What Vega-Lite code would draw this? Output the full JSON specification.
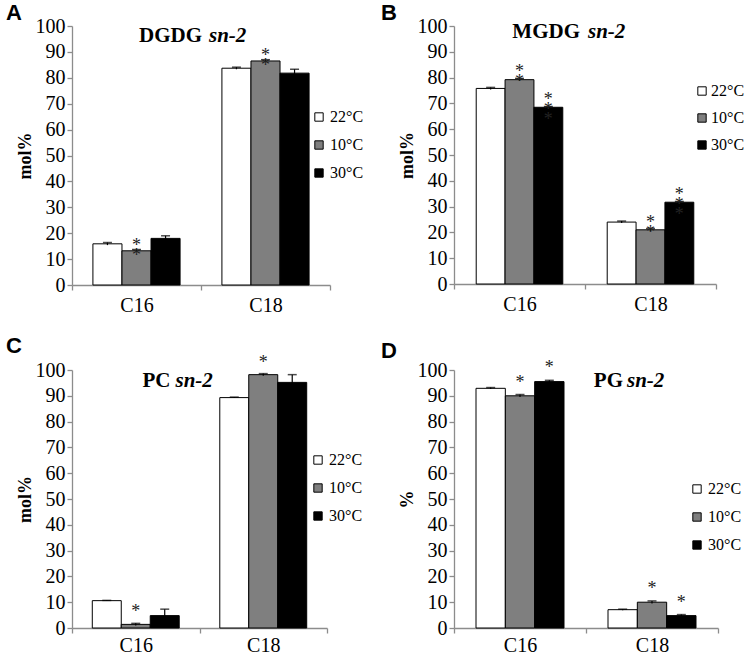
{
  "$schema": "https://vega.github.io/schema/vega-lite/v6.json",
  "background": "white",
  "padding": {"left": 6, "top": 2, "right": 0, "bottom": 0},
  "datasets": {
    "dgdg": [
      {"cat": "C16", "temp": "22°C", "value": 15.9, "lo": 15.4, "hi": 16.4, "sig": ""},
      {"cat": "C16", "temp": "10°C", "value": 13.2, "lo": 12.7, "hi": 13.7, "sig": "*\n*"},
      {"cat": "C16", "temp": "30°C", "value": 18.0, "lo": 17.0, "hi": 19.0, "sig": ""},
      {"cat": "C18", "temp": "22°C", "value": 83.7, "lo": 83.3, "hi": 84.1, "sig": ""},
      {"cat": "C18", "temp": "10°C", "value": 86.5, "lo": 86.0, "hi": 87.0, "sig": "*\n*"},
      {"cat": "C18", "temp": "30°C", "value": 81.8, "lo": 80.3, "hi": 83.3, "sig": ""}
    ],
    "mgdg": [
      {"cat": "C16", "temp": "22°C", "value": 75.8, "lo": 75.4, "hi": 76.2, "sig": ""},
      {"cat": "C16", "temp": "10°C", "value": 79.2, "lo": 78.7, "hi": 79.7, "sig": "*\n*"},
      {"cat": "C16", "temp": "30°C", "value": 68.5, "lo": 68.2, "hi": 68.8, "sig": "*\n*\n*"},
      {"cat": "C18", "temp": "22°C", "value": 24.0, "lo": 23.6, "hi": 24.4, "sig": ""},
      {"cat": "C18", "temp": "10°C", "value": 21.0, "lo": 20.5, "hi": 21.5, "sig": "*\n*"},
      {"cat": "C18", "temp": "30°C", "value": 31.7, "lo": 31.4, "hi": 32.0, "sig": "*\n*\n*"}
    ],
    "pc": [
      {"cat": "C16", "temp": "22°C", "value": 10.6, "lo": 10.5, "hi": 10.7, "sig": ""},
      {"cat": "C16", "temp": "10°C", "value": 1.4, "lo": 1.0, "hi": 1.8, "sig": "*"},
      {"cat": "C16", "temp": "30°C", "value": 4.8, "lo": 2.3, "hi": 7.3, "sig": ""},
      {"cat": "C18", "temp": "22°C", "value": 89.3, "lo": 89.1, "hi": 89.5, "sig": ""},
      {"cat": "C18", "temp": "10°C", "value": 98.2, "lo": 97.8, "hi": 98.6, "sig": "*"},
      {"cat": "C18", "temp": "30°C", "value": 95.2, "lo": 92.2, "hi": 98.2, "sig": ""}
    ],
    "pg": [
      {"cat": "C16", "temp": "22°C", "value": 92.9, "lo": 92.6, "hi": 93.2, "sig": ""},
      {"cat": "C16", "temp": "10°C", "value": 90.0, "lo": 89.5, "hi": 90.5, "sig": "*"},
      {"cat": "C16", "temp": "30°C", "value": 95.5, "lo": 95.0, "hi": 96.0, "sig": "*"},
      {"cat": "C18", "temp": "22°C", "value": 7.1, "lo": 6.9, "hi": 7.3, "sig": ""},
      {"cat": "C18", "temp": "10°C", "value": 10.0, "lo": 9.5, "hi": 10.5, "sig": "*"},
      {"cat": "C18", "temp": "30°C", "value": 4.8, "lo": 4.4, "hi": 5.2, "sig": "*"}
    ]
  },
  "columns": 2,
  "spacing": {"row": 19, "column": 17},
  "resolve": {"scale": {"color": "independent", "x": "independent", "y": "independent", "xOffset": "independent"}, "legend": {"color": "independent"}},
  "concat": [
    {
      "width": 258, "height": 259,
      "title": {"text": "A", "anchor": "start", "frame": "group", "dx": -66, "offset": -9, "font": "Liberation Sans", "fontSize": 22, "fontWeight": "bold", "color": "black"},
      "layer": [
        {"data": {"name": "dgdg"}, "mark": {"type": "bar", "stroke": "black", "strokeWidth": 1},
         "encoding": {
           "x": {"field": "cat", "type": "nominal", "title": null, "scale": {"paddingInner": 0, "paddingOuter": 0},
             "axis": {"labelAngle": 0, "tickBand": "extent", "grid": false, "domainColor": "#8c8c8c", "tickColor": "#8c8c8c", "domainWidth": 1.3, "tickWidth": 1.3, "tickSize": 5, "labelFont": "Liberation Serif", "labelFontSize": 20, "labelColor": "black", "labelPadding": 5}},
           "xOffset": {"field": "temp", "type": "nominal", "sort": ["22°C", "10°C", "30°C"], "scale": {"paddingOuter": 0.72, "paddingInner": 0}},
           "y": {"field": "value", "type": "quantitative", "scale": {"domain": [0, 100], "nice": false},
             "axis": {"title": "mol%", "values": [0, 10, 20, 30, 40, 50, 60, 70, 80, 90, 100], "tickCount": 11, "labelOverlap": false, "grid": false, "domainColor": "#8c8c8c", "tickColor": "#8c8c8c", "domainWidth": 1.3, "tickWidth": 1.3, "tickSize": 5, "labelFont": "Liberation Serif", "labelFontSize": 20, "labelColor": "black", "labelPadding": 2, "titleFont": "Liberation Serif", "titleFontSize": 18, "titleFontWeight": "bold", "titleColor": "black", "titlePadding": 1}},
           "color": {"field": "temp", "type": "nominal", "scale": {"domain": ["22°C", "10°C", "30°C"], "range": ["white", "#7f7f7f", "black"]},
             "legend": {"orient": "none", "legendX": 239, "legendY": 83, "title": null, "symbolType": "square", "symbolSize": 70, "symbolStrokeColor": "black", "symbolStrokeWidth": 1, "labelFont": "Liberation Serif", "labelFontSize": 16, "labelColor": "black", "rowPadding": 12, "labelOffset": 3}}
         }},
        {"data": {"name": "dgdg"}, "mark": {"type": "rule", "color": "black", "strokeWidth": 1.2},
         "encoding": {"x": {"field": "cat", "type": "nominal"}, "xOffset": {"field": "temp", "type": "nominal", "sort": ["22°C", "10°C", "30°C"]}, "y": {"field": "lo", "type": "quantitative", "axis": {"values": [0, 10, 20, 30, 40, 50, 60, 70, 80, 90, 100], "tickCount": 11, "labelOverlap": false}}, "y2": {"field": "hi"}}},
        {"data": {"name": "dgdg"}, "mark": {"type": "tick", "color": "black", "size": 9, "thickness": 1.5},
         "encoding": {"x": {"field": "cat", "type": "nominal"}, "xOffset": {"field": "temp", "type": "nominal", "sort": ["22°C", "10°C", "30°C"]}, "y": {"field": "hi", "type": "quantitative", "axis": {"values": [0, 10, 20, 30, 40, 50, 60, 70, 80, 90, 100], "tickCount": 11, "labelOverlap": false}}}},
        {"data": {"name": "dgdg"}, "mark": {"type": "text", "baseline": "bottom", "font": "Liberation Serif", "fontSize": 18, "lineHeight": 10, "lineBreak": "\n", "dy": 5, "fill": "#222"},
         "encoding": {"x": {"field": "cat", "type": "nominal"}, "xOffset": {"field": "temp", "type": "nominal", "sort": ["22°C", "10°C", "30°C"]}, "y": {"field": "hi", "type": "quantitative", "axis": {"values": [0, 10, 20, 30, 40, 50, 60, 70, 80, 90, 100], "tickCount": 11, "labelOverlap": false}}, "text": {"field": "sig"}}},
        {"data": {"values": [{}]}, "mark": {"type": "text", "text": "DGDG", "align": "right", "baseline": "alphabetic", "font": "Liberation Serif", "fontSize": 21, "fontWeight": "bold", "fill": "black", "dx": 1},
         "encoding": {"x": {"datum": "C18", "bandPosition": 0}, "y": {"datum": 94}}},
        {"data": {"values": [{}]}, "mark": {"type": "text", "text": "sn-2", "align": "left", "baseline": "alphabetic", "font": "Liberation Serif", "fontSize": 21, "fontWeight": "bold", "fontStyle": "italic", "fill": "black", "dx": 8},
         "encoding": {"x": {"datum": "C18", "bandPosition": 0}, "y": {"datum": 94}}}
      ]
    },
    {
      "width": 262, "height": 258,
      "title": {"text": "B", "anchor": "start", "frame": "group", "dx": -73, "offset": -9, "font": "Liberation Sans", "fontSize": 22, "fontWeight": "bold", "color": "black"},
      "layer": [
        {"data": {"name": "mgdg"}, "mark": {"type": "bar", "stroke": "black", "strokeWidth": 1},
         "encoding": {
           "x": {"field": "cat", "type": "nominal", "title": null, "scale": {"paddingInner": 0, "paddingOuter": 0},
             "axis": {"labelAngle": 0, "tickBand": "extent", "grid": false, "domainColor": "#8c8c8c", "tickColor": "#8c8c8c", "domainWidth": 1.3, "tickWidth": 1.3, "tickSize": 5, "labelFont": "Liberation Serif", "labelFontSize": 20, "labelColor": "black", "labelPadding": 5}},
           "xOffset": {"field": "temp", "type": "nominal", "sort": ["22°C", "10°C", "30°C"], "scale": {"paddingOuter": 0.77, "paddingInner": 0}},
           "y": {"field": "value", "type": "quantitative", "scale": {"domain": [0, 100], "nice": false},
             "axis": {"title": "mol%", "values": [0, 10, 20, 30, 40, 50, 60, 70, 80, 90, 100], "tickCount": 11, "labelOverlap": false, "grid": false, "domainColor": "#8c8c8c", "tickColor": "#8c8c8c", "domainWidth": 1.3, "tickWidth": 1.3, "tickSize": 5, "labelFont": "Liberation Serif", "labelFontSize": 20, "labelColor": "black", "labelPadding": 2, "titleFont": "Liberation Serif", "titleFontSize": 18, "titleFontWeight": "bold", "titleColor": "black", "titlePadding": 1}},
           "color": {"field": "temp", "type": "nominal", "scale": {"domain": ["22°C", "10°C", "30°C"], "range": ["white", "#7f7f7f", "black"]},
             "legend": {"orient": "none", "legendX": 240, "legendY": 57, "title": null, "symbolType": "square", "symbolSize": 70, "symbolStrokeColor": "black", "symbolStrokeWidth": 1, "labelFont": "Liberation Serif", "labelFontSize": 16, "labelColor": "black", "rowPadding": 11, "labelOffset": 1}}
         }},
        {"data": {"name": "mgdg"}, "mark": {"type": "rule", "color": "black", "strokeWidth": 1.2},
         "encoding": {"x": {"field": "cat", "type": "nominal"}, "xOffset": {"field": "temp", "type": "nominal", "sort": ["22°C", "10°C", "30°C"]}, "y": {"field": "lo", "type": "quantitative", "axis": {"values": [0, 10, 20, 30, 40, 50, 60, 70, 80, 90, 100], "tickCount": 11, "labelOverlap": false}}, "y2": {"field": "hi"}}},
        {"data": {"name": "mgdg"}, "mark": {"type": "tick", "color": "black", "size": 9, "thickness": 1.5},
         "encoding": {"x": {"field": "cat", "type": "nominal"}, "xOffset": {"field": "temp", "type": "nominal", "sort": ["22°C", "10°C", "30°C"]}, "y": {"field": "hi", "type": "quantitative", "axis": {"values": [0, 10, 20, 30, 40, 50, 60, 70, 80, 90, 100], "tickCount": 11, "labelOverlap": false}}}},
        {"data": {"name": "mgdg"}, "mark": {"type": "text", "baseline": "bottom", "font": "Liberation Serif", "fontSize": 18, "lineHeight": 10, "lineBreak": "\n", "dy": 3, "fill": "#222"},
         "encoding": {"x": {"field": "cat", "type": "nominal"}, "xOffset": {"field": "temp", "type": "nominal", "sort": ["22°C", "10°C", "30°C"]}, "y": {"field": "hi", "type": "quantitative", "axis": {"values": [0, 10, 20, 30, 40, 50, 60, 70, 80, 90, 100], "tickCount": 11, "labelOverlap": false}}, "text": {"field": "sig"}}},
        {"data": {"values": [{}]}, "mark": {"type": "text", "text": "MGDG", "align": "right", "baseline": "alphabetic", "font": "Liberation Serif", "fontSize": 21, "fontWeight": "bold", "fill": "black", "dx": -5},
         "encoding": {"x": {"datum": "C18", "bandPosition": 0}, "y": {"datum": 95.3}}},
        {"data": {"values": [{}]}, "mark": {"type": "text", "text": "sn-2", "align": "left", "baseline": "alphabetic", "font": "Liberation Serif", "fontSize": 21, "fontWeight": "bold", "fontStyle": "italic", "fill": "black", "dx": 3},
         "encoding": {"x": {"datum": "C18", "bandPosition": 0}, "y": {"datum": 95.3}}}
      ]
    },
    {
      "width": 255, "height": 258,
      "title": {"text": "C", "anchor": "start", "frame": "group", "dx": -66, "offset": -4, "font": "Liberation Sans", "fontSize": 22, "fontWeight": "bold", "color": "black"},
      "layer": [
        {"data": {"name": "pc"}, "mark": {"type": "bar", "stroke": "black", "strokeWidth": 1},
         "encoding": {
           "x": {"field": "cat", "type": "nominal", "title": null, "scale": {"paddingInner": 0, "paddingOuter": 0},
             "axis": {"labelAngle": 0, "tickBand": "extent", "grid": false, "domainColor": "#8c8c8c", "tickColor": "#8c8c8c", "domainWidth": 1.3, "tickWidth": 1.3, "tickSize": 5, "labelFont": "Liberation Serif", "labelFontSize": 20, "labelColor": "black", "labelPadding": 2}},
           "xOffset": {"field": "temp", "type": "nominal", "sort": ["22°C", "10°C", "30°C"], "scale": {"paddingOuter": 0.7, "paddingInner": 0}},
           "y": {"field": "value", "type": "quantitative", "scale": {"domain": [0, 100], "nice": false},
             "axis": {"title": "mol%", "values": [0, 10, 20, 30, 40, 50, 60, 70, 80, 90, 100], "tickCount": 11, "labelOverlap": false, "grid": false, "domainColor": "#8c8c8c", "tickColor": "#8c8c8c", "domainWidth": 1.3, "tickWidth": 1.3, "tickSize": 5, "labelFont": "Liberation Serif", "labelFontSize": 20, "labelColor": "black", "labelPadding": 2, "titleFont": "Liberation Serif", "titleFontSize": 18, "titleFontWeight": "bold", "titleColor": "black", "titlePadding": 1}},
           "color": {"field": "temp", "type": "nominal", "scale": {"domain": ["22°C", "10°C", "30°C"], "range": ["white", "#7f7f7f", "black"]},
             "legend": {"orient": "none", "legendX": 238, "legendY": 82, "title": null, "symbolType": "square", "symbolSize": 70, "symbolStrokeColor": "black", "symbolStrokeWidth": 1, "labelFont": "Liberation Serif", "labelFontSize": 16, "labelColor": "black", "rowPadding": 12, "labelOffset": 3}}
         }},
        {"data": {"name": "pc"}, "mark": {"type": "rule", "color": "black", "strokeWidth": 1.2},
         "encoding": {"x": {"field": "cat", "type": "nominal"}, "xOffset": {"field": "temp", "type": "nominal", "sort": ["22°C", "10°C", "30°C"]}, "y": {"field": "lo", "type": "quantitative", "axis": {"values": [0, 10, 20, 30, 40, 50, 60, 70, 80, 90, 100], "tickCount": 11, "labelOverlap": false}}, "y2": {"field": "hi"}}},
        {"data": {"name": "pc"}, "mark": {"type": "tick", "color": "black", "size": 9, "thickness": 1.5},
         "encoding": {"x": {"field": "cat", "type": "nominal"}, "xOffset": {"field": "temp", "type": "nominal", "sort": ["22°C", "10°C", "30°C"]}, "y": {"field": "hi", "type": "quantitative", "axis": {"values": [0, 10, 20, 30, 40, 50, 60, 70, 80, 90, 100], "tickCount": 11, "labelOverlap": false}}}},
        {"data": {"name": "pc"}, "mark": {"type": "text", "baseline": "bottom", "font": "Liberation Serif", "fontSize": 18, "lineHeight": 10, "lineBreak": "\n", "dy": -2, "fill": "#222"},
         "encoding": {"x": {"field": "cat", "type": "nominal"}, "xOffset": {"field": "temp", "type": "nominal", "sort": ["22°C", "10°C", "30°C"]}, "y": {"field": "hi", "type": "quantitative", "axis": {"values": [0, 10, 20, 30, 40, 50, 60, 70, 80, 90, 100], "tickCount": 11, "labelOverlap": false}}, "text": {"field": "sig"}}},
        {"data": {"values": [{}]}, "mark": {"type": "text", "text": "PC", "align": "right", "baseline": "alphabetic", "font": "Liberation Serif", "fontSize": 21, "fontWeight": "bold", "fill": "black", "dx": -29},
         "encoding": {"x": {"datum": "C18", "bandPosition": 0}, "y": {"datum": 93.4}}},
        {"data": {"values": [{}]}, "mark": {"type": "text", "text": "sn-2", "align": "left", "baseline": "alphabetic", "font": "Liberation Serif", "fontSize": 21, "fontWeight": "bold", "fontStyle": "italic", "fill": "black", "dx": -24},
         "encoding": {"x": {"datum": "C18", "bandPosition": 0}, "y": {"datum": 93.4}}}
      ]
    },
    {
      "width": 264, "height": 258,
      "title": {"text": "D", "anchor": "start", "frame": "group", "dx": -73, "offset": -4, "font": "Liberation Sans", "fontSize": 22, "fontWeight": "bold", "color": "black"},
      "layer": [
        {"data": {"name": "pg"}, "mark": {"type": "bar", "stroke": "black", "strokeWidth": 1},
         "encoding": {
           "x": {"field": "cat", "type": "nominal", "title": null, "scale": {"paddingInner": 0, "paddingOuter": 0},
             "axis": {"labelAngle": 0, "tickBand": "extent", "grid": false, "domainColor": "#8c8c8c", "tickColor": "#8c8c8c", "domainWidth": 1.3, "tickWidth": 1.3, "tickSize": 5, "labelFont": "Liberation Serif", "labelFontSize": 20, "labelColor": "black", "labelPadding": 2}},
           "xOffset": {"field": "temp", "type": "nominal", "sort": ["22°C", "10°C", "30°C"], "scale": {"paddingOuter": 0.75, "paddingInner": 0}},
           "y": {"field": "value", "type": "quantitative", "scale": {"domain": [0, 100], "nice": false},
             "axis": {"title": "%", "values": [0, 10, 20, 30, 40, 50, 60, 70, 80, 90, 100], "tickCount": 11, "labelOverlap": false, "grid": false, "domainColor": "#8c8c8c", "tickColor": "#8c8c8c", "domainWidth": 1.3, "tickWidth": 1.3, "tickSize": 5, "labelFont": "Liberation Serif", "labelFontSize": 20, "labelColor": "black", "labelPadding": 2, "titleFont": "Liberation Serif", "titleFontSize": 18, "titleFontWeight": "bold", "titleColor": "black", "titlePadding": 1}},
           "color": {"field": "temp", "type": "nominal", "scale": {"domain": ["22°C", "10°C", "30°C"], "range": ["white", "#7f7f7f", "black"]},
             "legend": {"orient": "none", "legendX": 235, "legendY": 111, "title": null, "symbolType": "square", "symbolSize": 70, "symbolStrokeColor": "black", "symbolStrokeWidth": 1, "labelFont": "Liberation Serif", "labelFontSize": 16, "labelColor": "black", "rowPadding": 12, "labelOffset": 3}}
         }},
        {"data": {"name": "pg"}, "mark": {"type": "rule", "color": "black", "strokeWidth": 1.2},
         "encoding": {"x": {"field": "cat", "type": "nominal"}, "xOffset": {"field": "temp", "type": "nominal", "sort": ["22°C", "10°C", "30°C"]}, "y": {"field": "lo", "type": "quantitative", "axis": {"values": [0, 10, 20, 30, 40, 50, 60, 70, 80, 90, 100], "tickCount": 11, "labelOverlap": false}}, "y2": {"field": "hi"}}},
        {"data": {"name": "pg"}, "mark": {"type": "tick", "color": "black", "size": 9, "thickness": 1.5},
         "encoding": {"x": {"field": "cat", "type": "nominal"}, "xOffset": {"field": "temp", "type": "nominal", "sort": ["22°C", "10°C", "30°C"]}, "y": {"field": "hi", "type": "quantitative", "axis": {"values": [0, 10, 20, 30, 40, 50, 60, 70, 80, 90, 100], "tickCount": 11, "labelOverlap": false}}}},
        {"data": {"name": "pg"}, "mark": {"type": "text", "baseline": "bottom", "font": "Liberation Serif", "fontSize": 18, "lineHeight": 10, "lineBreak": "\n", "dy": -3, "fill": "#222"},
         "encoding": {"x": {"field": "cat", "type": "nominal"}, "xOffset": {"field": "temp", "type": "nominal", "sort": ["22°C", "10°C", "30°C"]}, "y": {"field": "hi", "type": "quantitative", "axis": {"values": [0, 10, 20, 30, 40, 50, 60, 70, 80, 90, 100], "tickCount": 11, "labelOverlap": false}}, "text": {"field": "sig"}}},
        {"data": {"values": [{}]}, "mark": {"type": "text", "text": "PG", "align": "right", "baseline": "alphabetic", "font": "Liberation Serif", "fontSize": 21, "fontWeight": "bold", "fill": "black", "dx": 37},
         "encoding": {"x": {"datum": "C18", "bandPosition": 0}, "y": {"datum": 93.4}}},
        {"data": {"values": [{}]}, "mark": {"type": "text", "text": "sn-2", "align": "left", "baseline": "alphabetic", "font": "Liberation Serif", "fontSize": 21, "fontWeight": "bold", "fontStyle": "italic", "fill": "black", "dx": 41},
         "encoding": {"x": {"datum": "C18", "bandPosition": 0}, "y": {"datum": 93.4}}}
      ]
    }
  ],
  "config": {
    "view": {"stroke": null},
    "font": "Liberation Serif"
  }
}
